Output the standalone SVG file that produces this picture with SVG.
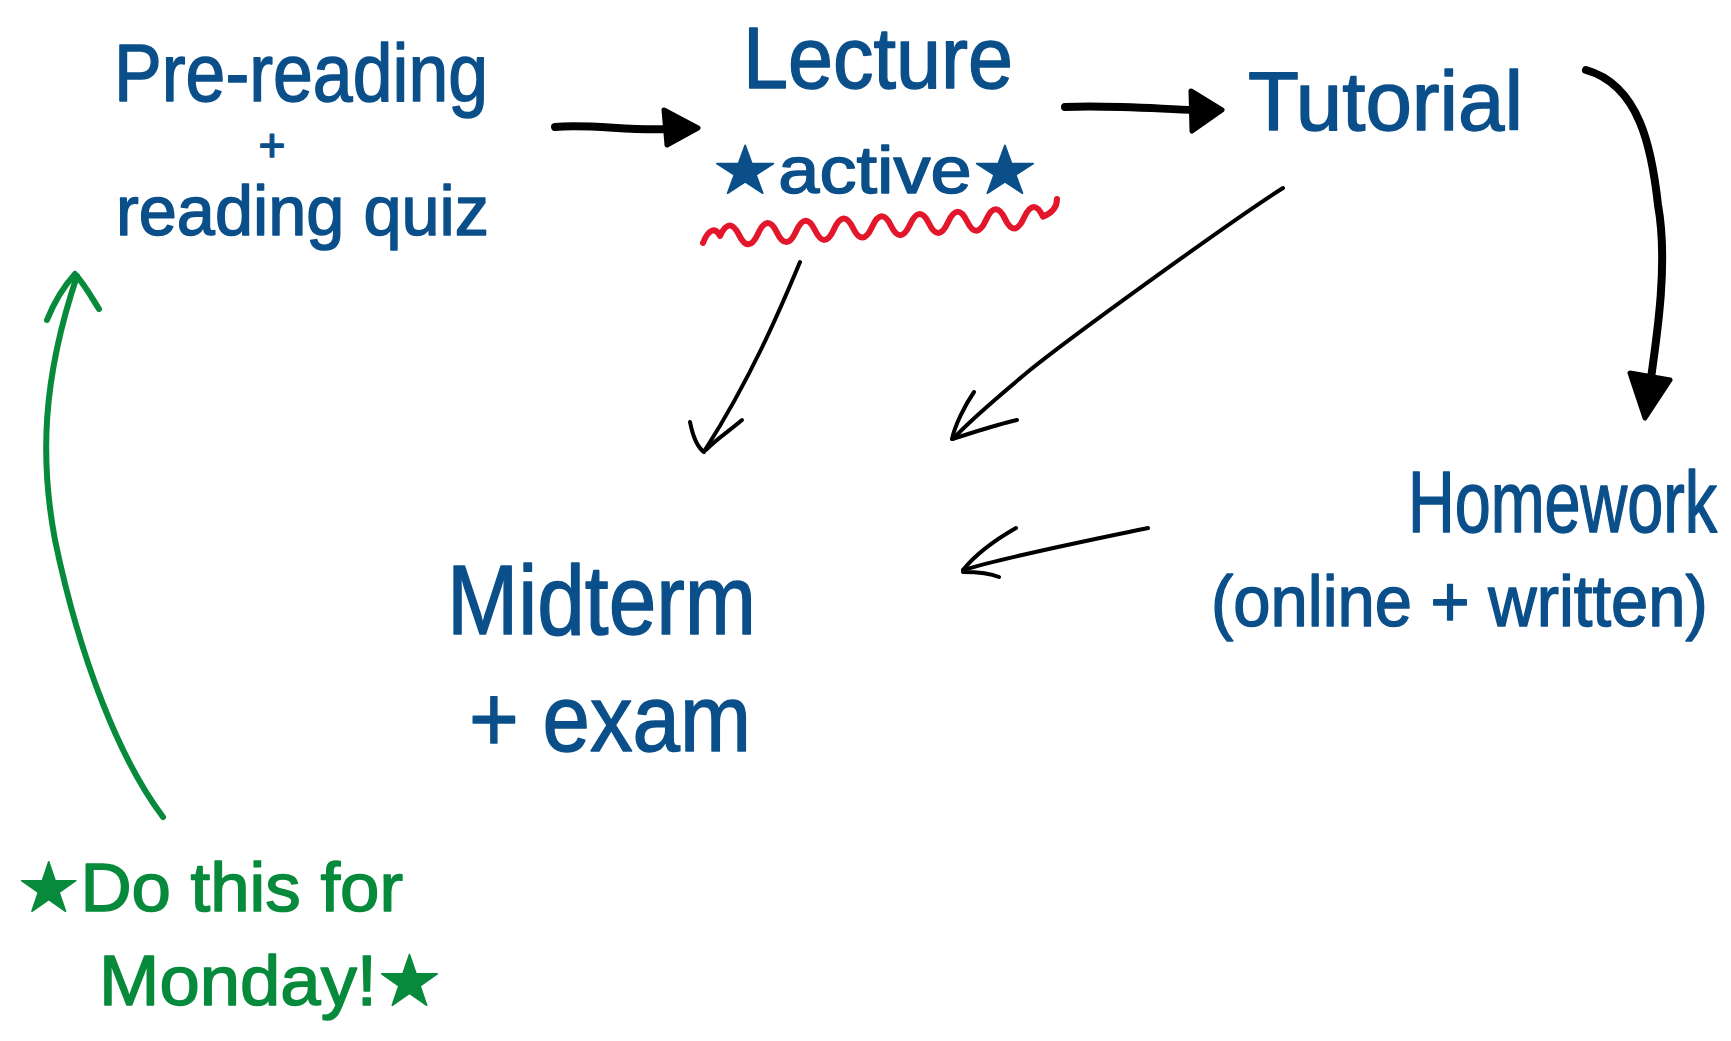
<svg xmlns="http://www.w3.org/2000/svg" width="1731" height="1041" viewBox="0 0 1731 1041">
<style>
.t{font-family:"Liberation Sans","DejaVu Sans",sans-serif;fill:#0b4f8a;stroke:#0b4f8a;stroke-width:1.5;stroke-linejoin:round}
.g{font-family:"Liberation Sans","DejaVu Sans",sans-serif;fill:#078a3b;stroke:#078a3b;stroke-width:1.5;stroke-linejoin:round}
.ink{fill:none;stroke:#000;stroke-linecap:round;stroke-linejoin:round}
.thick{stroke-width:8}
.thin{stroke-width:4}
.head{fill:#000;stroke:#000;stroke-width:5;stroke-linejoin:round}
.green{fill:none;stroke:#078a3b;stroke-width:6;stroke-linecap:round;stroke-linejoin:round}
.red{fill:none;stroke:#e3172b;stroke-width:6;stroke-linecap:round;stroke-linejoin:round}
</style>
<rect width="1731" height="1041" fill="#fff"/>

<g id="prereading">
<text class="t" x="114" y="101" font-size="82" textLength="374" lengthAdjust="spacingAndGlyphs">Pre-reading</text>
<text class="t" x="272" y="161" font-size="46" text-anchor="middle">+</text>
<text class="t" x="116" y="235" font-size="70" textLength="373" lengthAdjust="spacingAndGlyphs">reading quiz</text>
</g>

<g id="lecture">
<text class="t" x="743" y="88" font-size="88" textLength="270" lengthAdjust="spacingAndGlyphs">Lecture</text>
<text class="t" x="712" y="193" font-size="66" textLength="326" lengthAdjust="spacingAndGlyphs">★active★</text>
<path class="red" d="M703,243 C708,230 715,226 720,236 Q729.5,215.4 739,234.9 T758,233.7 T777,232.6 T796,231.4 T815,230.3 T834,229.2 T853,228 T872,226.9 T891,225.7 T910,224.6 T929,223.5 T948,222.3 T967,221.2 T986,220 T1005,218.9 T1024,217.8 T1043,216.6 Q1057,211 1057,199"/>
</g>

<g id="tutorial">
<text class="t" x="1248" y="130" font-size="84" textLength="275" lengthAdjust="spacingAndGlyphs">Tutorial</text>
</g>

<g id="homework">
<text class="t" transform="translate(1408 532) scale(0.735 1)" x="0" y="0" font-size="88">Homework</text>
<text class="t" transform="translate(1211 626) scale(0.93 1)" x="0" y="0" font-size="72">(online + written)</text>
</g>

<g id="midterm">
<text class="t" x="447" y="634" font-size="98" textLength="309" lengthAdjust="spacingAndGlyphs">Midterm</text>
<text class="t" x="469" y="751" font-size="95" textLength="282" lengthAdjust="spacingAndGlyphs">+ exam</text>
</g>

<g id="note">
<text class="g" x="17" y="911" font-size="68" textLength="386" lengthAdjust="spacingAndGlyphs">★Do this for</text>
<text class="g" x="99" y="1005" font-size="70" textLength="343" lengthAdjust="spacingAndGlyphs">Monday!★</text>
</g>

<g id="connectors">
<path class="ink thick" d="M555,127 C590,124 630,131 668,129"/>
<polygon class="head" points="664,110 698,128 667,145"/>
<path class="ink thick" d="M1065,107 C1110,105 1160,109 1195,110"/>
<polygon class="head" points="1191,91 1222,110 1192,131"/>
<path class="ink thick" d="M1586,70 C1640,85 1652,150 1658,205 C1668,260 1658,330 1650,385"/>
<polygon class="head" points="1630,373 1670,380 1645,418"/>
<path class="ink thin" d="M800,262 C780,310 750,380 705,450"/>
<path class="ink thin" d="M690,422 C693,437 697,447 704,452 M742,420 C728,432 715,440 706,450"/>
<path class="ink thin" d="M1283,188 C1240,215 1080,330 1030,370 C1000,395 970,420 953,439"/>
<path class="ink thin" d="M974,392 C965,405 955,425 952,439 M952,439 C975,432 995,425 1017,420"/>
<path class="ink thin" d="M1148,528 C1090,540 1010,556 963,570"/>
<path class="ink thin" d="M1016,528 C995,540 975,555 963,570 M963,572 C980,572 992,574 999,577"/>
<path class="green" d="M163,817 C120,760 80,660 55,540 C40,460 42,380 77,276"/>
<path class="green" d="M47,320 C55,300 65,285 75,274 M75,274 C85,285 92,298 99,309"/>
</g>
</svg>
